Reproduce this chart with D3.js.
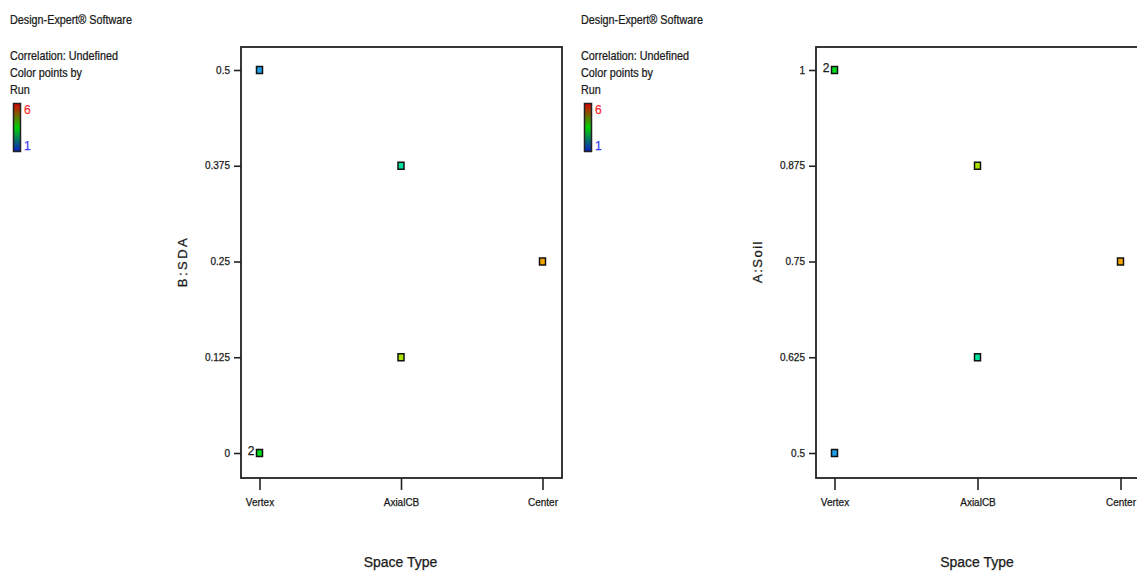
<!DOCTYPE html>
<html>
<head>
<meta charset="utf-8">
<script src="https://cdn.jsdelivr.net/npm/d3@7"></script>
<style>
  html, body { margin: 0; padding: 0; background: #fff; }
  svg { display: block; font-family: "Liberation Sans", Arial, sans-serif; }
  svg text { stroke: #1a1a1a; stroke-width: 0.25px; }
  svg text.red { stroke: #ff2a2a; }
  svg text.blue { stroke: #3a3aff; }
</style>
</head>
<body>
<svg id="chart" width="1137" height="572"></svg>
<script>
// Design points of the two-component mixture design
const spaceTypes = ["Vertex", "AxialCB", "Center"];
const pointType  = ["Vertex", "AxialCB", "Center", "AxialCB", "Vertex"];
const sdaValues  = [0.5, 0.375, 0.25, 0.125, 0];
const soilValues = [0.5, 0.625, 0.75, 0.875, 1];
const runValues  = [1, 2, 5, 4, 3];
const pointCount = [1, 1, 1, 1, 2];

// Tick labels
const sdaTicks  = [0, 0.125, 0.25, 0.375, 0.5];
const soilTicks = [0.5, 0.625, 0.75, 0.875, 1];

// Colour by run
const runDomain = [1, 2, 3, 4, 5, 6];
const runColors = ["#1c9fe8", "#00e3a0", "#00dc1c", "#a8e400", "#f2a400", "#e00000"];
const runColor = d3.scaleLinear().domain(runDomain).range(runColors);

const legendLines = ["Correlation: Undefined", "Color points by", "Run"];

const svg = d3.select("#chart");

// gradient for the run colour bar
const defs = svg.append("defs");
const grad = defs.append("linearGradient")
  .attr("id", "runGrad").attr("x1", 0).attr("y1", 1).attr("x2", 0).attr("y2", 0);
[["0%", "#0a1ec8"], ["50%", "#00d000"], ["100%", "#e00000"]].forEach(([o, c]) =>
  grad.append("stop").attr("offset", o).attr("stop-color", c));

function drawLegend(x0) {
  const g = svg.append("g").attr("transform", `translate(${x0},0)`);
  const t = g.append("g").attr("transform", "scale(0.9,1)");
  t.append("text").attr("x", 0).attr("y", 24).attr("font-size", 12)
    .attr("fill", "#1a1a1a").text("Design-Expert\u00AE Software");
  legendLines.forEach((s, i) => {
    t.append("text").attr("x", 0).attr("y", 60 + i * 17).attr("font-size", 12)
      .attr("fill", "#1a1a1a").text(s);
  });
  g.append("rect").attr("x", 3.5).attr("y", 103.5).attr("width", 7).attr("height", 48)
    .attr("fill", "url(#runGrad)").attr("stroke", "#222").attr("stroke-width", 1.5);
  g.append("text").attr("class", "red").attr("x", 14).attr("y", 114).attr("font-size", 12)
    .attr("fill", "#ff2a2a").text(d3.max(runDomain));
  g.append("text").attr("class", "blue").attr("x", 14).attr("y", 150).attr("font-size", 12)
    .attr("fill", "#3a3aff").text(d3.min(runDomain));
}

function drawPanel(opts) {
  const { left, right, top, bottom, yDomain, yTicks, yValues, yTitle, spacing } = opts;
  const g = svg.append("g");

  const x = d3.scalePoint().domain(spaceTypes).range([left + 18.5, right - 19.5]);
  const y = d3.scaleLinear().domain(yDomain).range([453, 70]);

  // frame
  g.append("rect").attr("x", left).attr("y", top)
    .attr("width", right - left).attr("height", bottom - top)
    .attr("fill", "none").attr("stroke", "#222").attr("stroke-width", 1.8);

  // y axis
  const yAxis = d3.axisLeft(y).tickValues(yTicks).tickSize(7).tickPadding(4)
    .tickFormat(d => String(d));
  const ya = g.append("g").attr("transform", `translate(${left},0)`).call(yAxis);
  ya.select(".domain").remove();
  ya.selectAll(".tick line").attr("stroke", "#222").attr("stroke-width", 1.6);
  ya.selectAll(".tick text").attr("font-size", 10).attr("fill", "#1a1a1a")
    .attr("font-family", "Liberation Sans, Arial, sans-serif");

  // x axis
  const xAxis = d3.axisBottom(x).tickSize(12).tickPadding(9);
  const xa = g.append("g").attr("transform", `translate(0,${bottom})`).call(xAxis);
  xa.select(".domain").remove();
  xa.selectAll(".tick line").attr("stroke", "#222").attr("stroke-width", 1.6);
  xa.selectAll(".tick text").attr("font-size", 10).attr("fill", "#1a1a1a")
    .attr("font-family", "Liberation Sans, Arial, sans-serif");

  // axis titles
  g.append("text").attr("x", (left + right) / 2 - 1).attr("y", 567)
    .attr("text-anchor", "middle").attr("font-size", 14).attr("fill", "#1a1a1a")
    .text("Space Type");
  g.append("text")
    .attr("transform", `translate(${left - 54},${(70 + 453) / 2}) rotate(-90)`)
    .attr("text-anchor", "middle").attr("font-size", 13).attr("fill", "#1a1a1a")
    .attr("letter-spacing", spacing).text(yTitle);

  // points
  const pts = pointType.map((t, i) => ({ t, v: yValues[i], run: runValues[i], n: pointCount[i] }));
  g.selectAll("rect.pt").data(pts).enter().append("rect").attr("class", "pt")
    .attr("x", d => x(d.t) - 3)
    .attr("y", d => y(d.v) - 3.5)
    .attr("width", 6).attr("height", 7)
    .attr("fill", d => runColor(d.run))
    .attr("stroke", "#111").attr("stroke-width", 1.5);

  g.selectAll("text.cnt").data(pts.filter(d => d.n > 1)).enter().append("text")
    .attr("class", "cnt")
    .attr("x", d => x(d.t) - 5).attr("y", d => y(d.v) + 2)
    .attr("text-anchor", "end").attr("font-size", 12).attr("fill", "#1a1a1a")
    .text(d => d.n);
}

drawLegend(10);
drawLegend(581);

drawPanel({
  left: 241, right: 562, top: 47, bottom: 478,
  yDomain: [0, 0.5], yTicks: sdaTicks, yValues: sdaValues, yTitle: "B:SDA", spacing: 2.5
});
drawPanel({
  left: 816, right: 1140, top: 47, bottom: 478,
  yDomain: [0.5, 1], yTicks: soilTicks, yValues: soilValues, yTitle: "A:Soil", spacing: 1.5
});
</script>
</body>
</html>
